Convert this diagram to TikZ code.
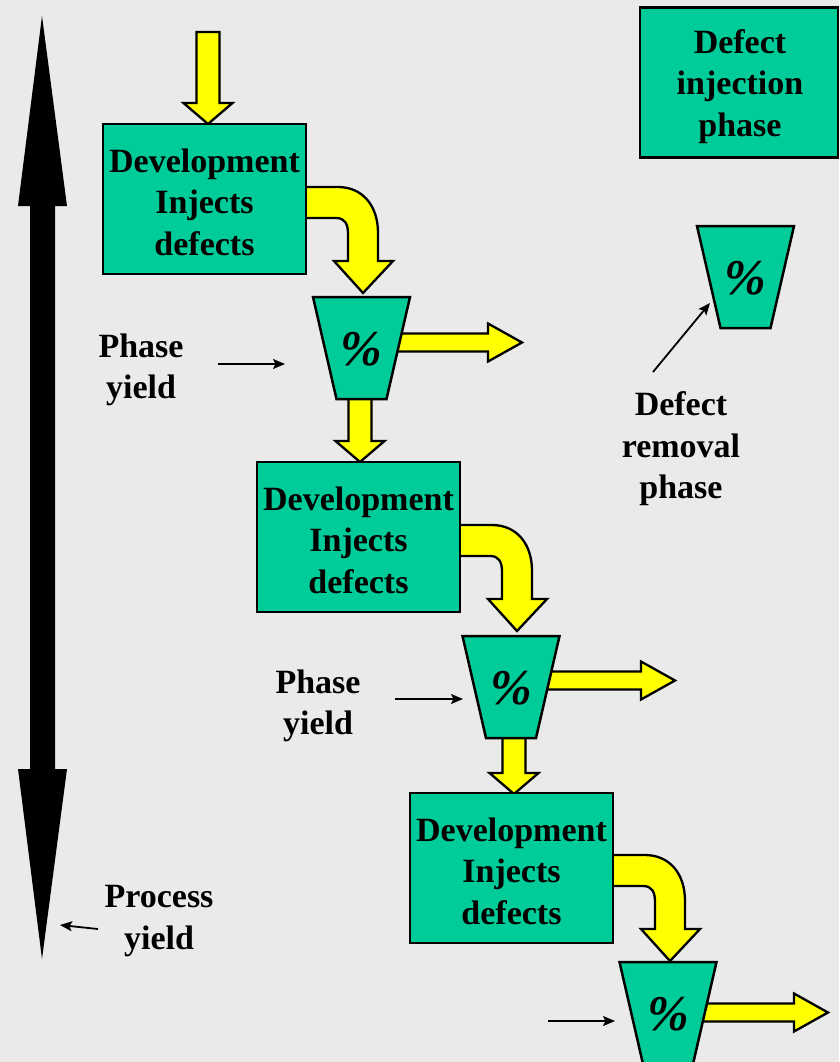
\documentclass[tikz,border=0pt]{standalone}
\usepackage{fontspec}
\setmainfont{Liberation Serif}
\usetikzlibrary{arrows.meta}

\definecolor{bgray}{HTML}{EAEAEA}
\definecolor{phasegreen}{HTML}{00CC99}
\definecolor{flowyellow}{HTML}{FFFF00}

% straight yellow block arrow pointing down: centre x, top y, tip y
\newcommand\flowdown[3]{%
  \draw[yarrow] (#1-11.5,#2) -- (#1+11.5,#2) -- (#1+11.5,#3-21) -- (#1+24.5,#3-21)
    -- (#1,#3) -- (#1-24.5,#3-21) -- (#1-11.5,#3-21) -- cycle;}
% straight yellow block arrow pointing right: start x, centre y, tip x
\newcommand\flowright[3]{%
  \draw[yarrow] (#1,#2-9) -- (#3-34,#2-9) -- (#3-34,#2-19) -- (#3,#2)
    -- (#3-34,#2+19) -- (#3-34,#2+9) -- (#1,#2+9) -- cycle;}
% bent yellow arrow leaving a development box, shifted by (dx,dy)
\newcommand\flowbend[2]{%
  \begin{scope}[shift={(#1,#2)}]
    \draw[yarrow] (298,187) -- (338,187) .. controls (362,187) and (378,205) .. (378,233)
      -- (378,261) -- (393,261) -- (363,293) -- (334,261) -- (348,261) -- (348,234)
      .. controls (348,224) and (345,218) .. (336,218) -- (298,218) -- cycle;
  \end{scope}}
% removal phase funnel: node name, centre x, top y
\newcommand\funnel[3]{%
  \draw[funnelshape] (#2-48.5,#3) -- (#2+48.5,#3) -- (#2+25,#3+102) -- (#2-25,#3+102) -- cycle;
  \node[pct] (#1) at (#2,#3+52) {\%};}

\tikzset{
  yarrow/.style={fill=flowyellow, draw=black, line width=2.3pt, line join=miter},
  funnelshape/.style={fill=phasegreen, draw=black, line width=2.5pt, line join=miter},
  devbox/.style={rectangle, fill=phasegreen, draw=black, line width=2.5pt,
    minimum width=203pt, minimum height=150pt, inner sep=0pt},
  pct/.style={inner sep=0pt, font=\fontsize{50}{50}\selectfont\bfseries\itshape},
  lbl/.style={inner sep=0pt, align=center, font=\fontsize{34}{41.5}\selectfont\bfseries},
  pointer/.style={draw=black, line width=1.8pt, -{Stealth[length=12pt,width=10pt,inset=2.5pt]}},
}

\begin{document}
\begin{tikzpicture}[x=1pt, y=-1pt]
  \useasboundingbox (0,0) rectangle (839,1062);
  \clip (0,0) rectangle (839,1062);
  \fill[bgray] (0,0) rectangle (839,1062);

  % process-wide double arrow on the left
  \fill[black] (42,16) -- (67,206) -- (55,206) -- (55,769) -- (67,769) -- (42,959)
    -- (18,769) -- (30,769) -- (30,206) -- (18,206) -- cycle;

  % yellow flow arrows (drawn first so the shapes sit on top)
  \flowdown{208}{32}{124}
  \flowbend{0}{0}
  \flowbend{154}{338}
  \flowbend{307}{668}
  \flowright{370}{342.5}{522}
  \flowright{520}{680.5}{675}
  \flowright{675}{1012.5}{828}
  \flowdown{360}{395}{462}
  \flowdown{514}{733}{794}

  % development (defect injection) boxes
  \node[devbox] (dev1) at (204.5,199) {};
  \node[lbl] (dev1t) at (204.5,202) {Development\\Injects\\defects};
  \node[devbox] (dev2) at (358.5,537) {};
  \node[lbl] (dev2t) at (358.5,540) {Development\\Injects\\defects};
  \node[devbox] (dev3) at (511.5,868) {};
  \node[lbl] (dev3t) at (511.5,871) {Development\\Injects\\defects};

  % removal funnels
  \funnel{rem1}{361.5}{297}
  \funnel{rem2}{511}{636}
  \funnel{rem3}{668}{962}

  % legend
  \node[devbox, minimum width=198pt] (legInj) at (739,82.5) {};
  \node[lbl] (legInjT) at (740,86.5) {Defect\\injection\\phase};
  \funnel{legRem}{745.5}{226}
  \node[lbl] (legRemTxt) at (681,449) {Defect\\removal\\phase};
  \coordinate (legFrom) at (653,372);
  \coordinate (legTo) at (710,303);
  \draw[pointer] (legFrom) -- (legTo);

  % phase yield labels
  \node[lbl] (py1) at (141,370) {Phase\\yield};
  \coordinate (py1a) at (218,364);
  \coordinate (py1b) at (285,364);
  \draw[pointer] (py1a) -- (py1b);

  \node[lbl] (py2) at (318,706) {Phase\\yield};
  \coordinate (py2a) at (395,699);
  \coordinate (py2b) at (463,699);
  \draw[pointer] (py2a) -- (py2b);

  \coordinate (py3a) at (548,1021);
  \coordinate (py3b) at (615,1021);
  \draw[pointer] (py3a) -- (py3b);

  % process yield label
  \node[lbl] (procY) at (159,921) {Process\\yield};
  \coordinate (pyA) at (98,929);
  \coordinate (pyB) at (60,925);
  \draw[pointer] (pyA) -- (pyB);
\end{tikzpicture}
\end{document}
